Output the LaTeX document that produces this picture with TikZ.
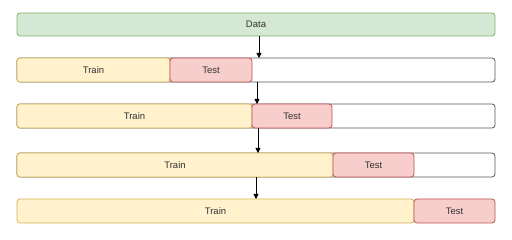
\documentclass[tikz,border=0pt]{standalone}
\usepackage{fontspec}
\setmainfont{Liberation Sans}
\usetikzlibrary{arrows.meta}
\definecolor{greenfill}{HTML}{D5E8D4}
\definecolor{greenline}{HTML}{82B366}
\definecolor{yellowfill}{HTML}{FFF2CC}
\definecolor{yellowline}{HTML}{D6B656}
\definecolor{redfill}{HTML}{F8CECC}
\definecolor{redline}{HTML}{B85450}
\definecolor{frameline}{HTML}{555555}
\definecolor{txt}{HTML}{333333}
\begin{document}
\begin{tikzpicture}[x=1pt,y=-1pt,
  bar/.style={rounded corners=3pt, line width=0.8pt, minimum height=24pt,
    inner sep=0pt, outer sep=0pt, anchor=north west,
    font=\fontsize{9.5}{11}\selectfont, text=txt},
  databar/.style={bar, draw=greenline, fill=greenfill, minimum height=23pt},
  framebar/.style={bar, draw=frameline, fill=white},
  trainbar/.style={bar, draw=yellowline, fill=yellowfill},
  testbar/.style={bar, draw=redline, fill=redfill},
  arr/.style={-{Triangle[length=5pt,width=5pt]}, line width=0.8pt, black}]
\useasboundingbox[fill=white] (0,0) rectangle (512,240);

% full data set
\node[databar, minimum width=478pt] (data) at (17,13) {Data};

% split 1
\node[framebar, minimum width=478pt] (f1) at (17,58) {};
\node[trainbar, minimum width=153pt] (tr1) at (17,58) {Train};
\node[testbar, minimum width=82pt] (te1) at (170,58) {Test};

% split 2
\node[framebar, minimum width=478pt] (f2) at (17,104) {};
\node[trainbar, minimum width=235pt] (tr2) at (17,104) {Train};
\node[testbar, minimum width=80pt] (te2) at (252,104) {Test};

% split 3
\node[framebar, minimum width=478pt] (f3) at (17,153) {};
\node[trainbar, minimum width=316pt] (tr3) at (17,153) {Train};
\node[testbar, minimum width=81pt] (te3) at (333,153) {Test};

% split 4
\node[trainbar, minimum width=397pt] (tr4) at (17,199) {Train};
\node[testbar, minimum width=81pt] (te4) at (414,199) {Test};

% arrow columns
\coordinate (c1) at (259,0);
\coordinate (c2) at (257,0);
\coordinate (c3) at (258,0);
\coordinate (c4) at (256,0);

\draw[arr] (data.south -| c1) -- (f1.north -| c1);
\draw[arr] (f1.south -| c2) -- (f2.north -| c2);
\draw[arr] (f2.south -| c3) -- (f3.north -| c3);
\draw[arr] (f3.south -| c4) -- (tr4.north -| c4);
\end{tikzpicture}
\end{document}
